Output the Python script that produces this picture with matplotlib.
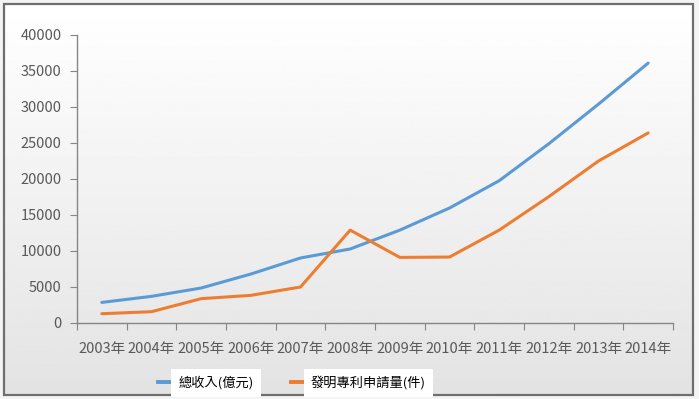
import numpy as np
import matplotlib
matplotlib.use("Agg")
import matplotlib.pyplot as plt
from matplotlib.lines import Line2D
from matplotlib.patches import Rectangle

plt.rcParams['font.family'] = ['Noto Sans CJK TC', 'DejaVu Sans']

# data
years = ['2003年', '2004年', '2005年', '2006年', '2007年', '2008年',
         '2009年', '2010年', '2011年', '2012年', '2013年', '2014年']
revenue = [2860, 3700, 4860, 6800, 9030, 10280, 12900, 15970, 19760, 24900, 30400, 36100]
patents = [1290, 1570, 3380, 3840, 5000, 12900, 9110, 9160, 12900, 17550, 22500, 26400]
y_ticks = [0, 5000, 10000, 15000, 20000, 25000, 30000, 35000, 40000]

W, H = 699, 399
fig = plt.figure(figsize=(W / 100, H / 100), dpi=100)
fig.patch.set_facecolor('#f4f4f4')

# chart background: soft vertical gradient inside a grey frame
bg = fig.add_axes([4 / W, 1 - 395 / H, 689 / W, 391 / H])
grad = np.linspace(1.0, 0.89, 256).reshape(-1, 1)
bg.imshow(grad, cmap='gray', vmin=0, vmax=1, aspect='auto', extent=[0, 1, 0, 1])
bg.set_xlim(0, 1)
bg.set_ylim(0, 1)
bg.axis('off')
fig.add_artist(Rectangle((4 / W, 1 - 395 / H), 689 / W, 391 / H, transform=fig.transFigure,
                         fill=False, edgecolor='#6e6e6e', linewidth=1.6))

ax = fig.add_axes([77 / W, 1 - 323 / H, 596 / W, 288 / H])
ax.patch.set_alpha(0)

x = np.arange(len(years))
blue, orange = '#5b9bd5', '#ed7d31'
ax.plot(x, revenue, color=blue, linewidth=2.2, solid_capstyle='round')
ax.plot(x, patents, color=orange, linewidth=2.2, solid_capstyle='round')

ax.set_xlim(-0.5, len(years) - 0.5)
ax.set_ylim(0, 40000)
ax.set_yticks(y_ticks)
ax.set_yticklabels([str(v) for v in y_ticks])

# category labels centred, tick marks on the boundaries
ax.set_xticks(np.arange(-0.5, len(years), 1))
ax.set_xticklabels([])
ax.set_xticks(x, minor=True)
ax.set_xticklabels(years, minor=True)
ax.tick_params(axis='x', which='minor', length=0, pad=14)
ax.tick_params(axis='x', which='major', length=5, color='#868686', direction='out')
ax.tick_params(axis='y', length=5, color='#868686', direction='out', pad=6)
ax.tick_params(axis='both', which='both', labelsize=10.5, labelcolor='#595959')

for side in ['top', 'right']:
    ax.spines[side].set_visible(False)
for side in ['left', 'bottom']:
    ax.spines[side].set_color('#868686')
    ax.spines[side].set_linewidth(1.0)

handles = [Line2D([], [], color=blue, linewidth=2.8),
           Line2D([], [], color=orange, linewidth=2.8)]
leg = fig.legend(handles, ['總收入(億元)', '發明專利申請量(件)'], loc='center',
                 bbox_to_anchor=(292 / W, 1 - 383 / H), ncol=2, frameon=False,
                 fontsize=9.5, handlelength=1.5, handletextpad=0.05, columnspacing=2.8)
for t in leg.get_texts():
    t.set_color('#000000')
    t.set_bbox(dict(facecolor='white', edgecolor='none', pad=5))

fig.savefig('out.png', dpi=100)
